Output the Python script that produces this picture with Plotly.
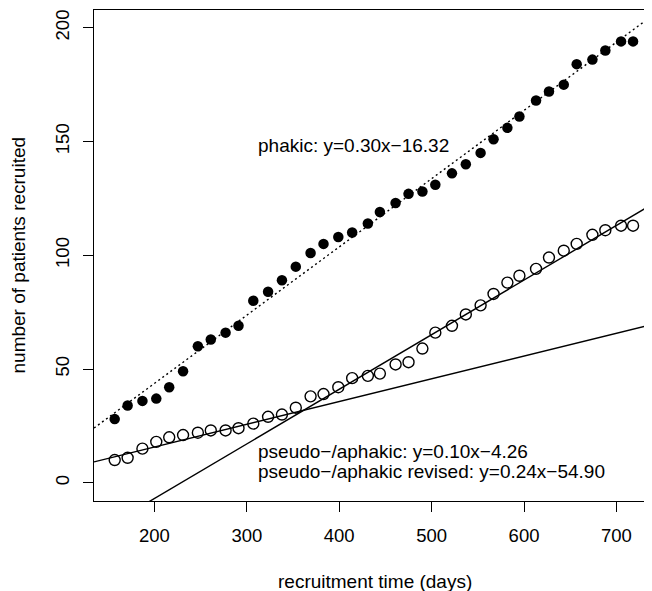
import plotly.graph_objects as go

# ---- data ----
days = [157, 171, 187, 202, 216, 231, 247, 261, 277, 291, 307, 323, 338, 353,
        369, 383, 399, 414, 431, 444, 461, 475, 490, 504, 522, 537, 553, 567,
        582, 595, 613, 627, 643, 657, 674, 688, 705, 718]
phakic = [28, 34, 36, 37, 42, 49, 60, 63, 66, 69, 80, 84, 89, 95, 101, 105, 108,
          110, 114, 119, 123, 127, 128, 131, 136, 140, 145, 151, 156, 161, 168,
          172, 175, 184, 186, 190, 194, 194]
pseudo = [10, 11, 15, 18, 20, 21, 22, 23, 23, 24, 26, 29, 30, 33, 38, 39, 42, 46,
          47, 48, 52, 53, 59, 66, 69, 74, 78, 83, 88, 91, 94, 99, 102, 105, 109,
          111, 113, 113]

fit_slopes = [0.30, 0.10, 0.24]
fit_intercepts = [-16.32, -4.26, -54.90]
fit_labels = ["phakic: y=0.30x\u221216.32",
              "pseudo\u2212/aphakic: y=0.10x\u22124.26",
              "pseudo\u2212/aphakic revised: y=0.24x\u221254.90"]
fit_dash = ["2px,3px", "solid", "solid"]

x_ticks = [200, 300, 400, 500, 600, 700]
y_ticks = [0, 50, 100, 150, 200]

x_range = [134.6, 738.5]
y_range = [-8.0, 207.8]

FONT = "Liberation Sans, Arial, Helvetica, sans-serif"

fig = go.Figure()

for b, a, d in zip(fit_slopes, fit_intercepts, fit_dash):
    xs = list(x_range)
    ys = [a + b * x for x in xs]
    fig.add_trace(go.Scatter(x=xs, y=ys, mode="lines",
                             line=dict(color="black", width=1.4, dash=d),
                             showlegend=False, hoverinfo="skip"))

fig.add_trace(go.Scatter(x=days, y=phakic, mode="markers",
                         marker=dict(symbol="circle", size=10.5, color="black"),
                         showlegend=False))
fig.add_trace(go.Scatter(x=days, y=pseudo, mode="markers",
                         marker=dict(symbol="circle-open", size=11, color="black",
                                     line=dict(width=1.4, color="black")),
                         showlegend=False))

ann = []
ann.append(dict(x=310, y=148.4, xref="x", yref="y", text=fit_labels[0],
                showarrow=False, xanchor="left", yanchor="middle"))
ann.append(dict(x=310, y=13.9, xref="x", yref="y", text=fit_labels[1],
                showarrow=False, xanchor="left", yanchor="middle"))
ann.append(dict(x=310, y=5.1, xref="x", yref="y", text=fit_labels[2],
                showarrow=False, xanchor="left", yanchor="middle"))
ann.append(dict(x=(374.5 - 94) / 558, y=0, xref="paper", yref="paper",
                text="recruitment time (days)", showarrow=False,
                xanchor="center", yanchor="middle", yshift=-80))
ann.append(dict(x=0, y=0.5, xref="paper", yref="paper",
                text="number of patients recruited", showarrow=False,
                xanchor="center", yanchor="middle", xshift=-76, textangle=-90))

# page body has an 8px margin: shrink figure so the plot box lands where the
# reference has it inside the 652x591 window
fig.update_layout(
    width=644, height=583,
    margin=dict(l=86, r=0, t=2, b=90),
    paper_bgcolor="white", plot_bgcolor="white",
    font=dict(family=FONT, size=19, color="black"),
    annotations=ann,
    xaxis=dict(range=x_range, tickvals=x_ticks, showgrid=False, zeroline=False,
               showline=True, mirror=True, linecolor="black", linewidth=1.4,
               ticks="outside", ticklen=10, tickwidth=1.4, tickcolor="black",
               ticklabelstandoff=8,
               tickfont=dict(family=FONT, size=18.5, color="black")),
    yaxis=dict(range=y_range, tickvals=y_ticks, showgrid=False, zeroline=False,
               showline=True, mirror=False, linecolor="black", linewidth=1.4,
               ticks="outside", ticklen=10, tickwidth=1.4, tickcolor="black",
               tickangle=-90, ticklabelstandoff=6,
               tickfont=dict(family=FONT, size=18.5, color="black")),
)

fig.write_html("out.html")
